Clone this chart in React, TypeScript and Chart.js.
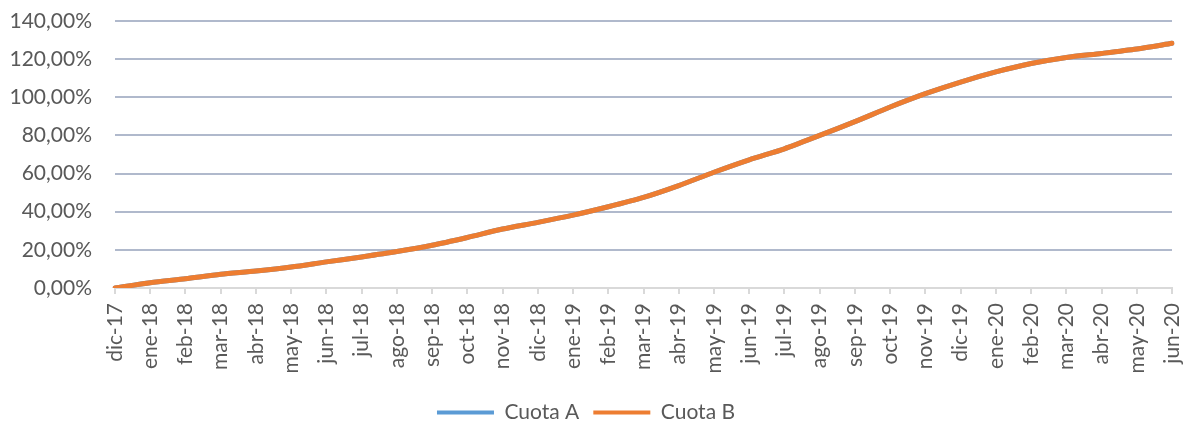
import React, { useEffect, useRef } from 'react';
import { Chart, registerables } from 'chart.js';

Chart.register(...registerables);

const months = [
  'dic-17', 'ene-18', 'feb-18', 'mar-18', 'abr-18', 'may-18', 'jun-18', 'jul-18',
  'ago-18', 'sep-18', 'oct-18', 'nov-18', 'dic-18', 'ene-19', 'feb-19', 'mar-19',
  'abr-19', 'may-19', 'jun-19', 'jul-19', 'ago-19', 'sep-19', 'oct-19', 'nov-19',
  'dic-19', 'ene-20', 'feb-20', 'mar-20', 'abr-20', 'may-20', 'jun-20',
];

const cuotaA = [
  0, 2.8, 4.9, 7.2, 8.9, 11.0, 13.7, 16.3, 19.1, 22.4, 26.5, 30.9, 34.4, 38.2, 42.6, 47.5,
  53.7, 60.7, 67.2, 73.0, 80.0, 87.2, 94.9, 101.9, 108.0, 113.3, 117.7, 120.9, 123.0, 125.3, 128.3,
];

const cuotaB = [
  0, 2.8, 4.9, 7.2, 8.9, 11.0, 13.7, 16.3, 19.1, 22.4, 26.5, 30.9, 34.4, 38.2, 42.6, 47.5,
  53.7, 60.7, 67.2, 73.0, 80.0, 87.2, 94.9, 101.9, 108.0, 113.3, 117.7, 120.9, 123.0, 125.3, 128.3,
];

const seriesNames = ['Cuota A', 'Cuota B'];
const yMin = 0;
const yMax = 140;
const yStep = 20;

const FONT = 'Lato, "Open Sans", sans-serif';
const TEXT = '#595959';

export default function App() {
  const ref = useRef<HTMLCanvasElement>(null);

  useEffect(() => {
    if (!ref.current) return;
    const chart = new Chart(ref.current, {
      type: 'line',
      data: {
        labels: months,
        datasets: [
          {
            label: seriesNames[0],
            data: cuotaA,
            borderColor: '#5B9BD5',
            backgroundColor: '#5B9BD5',
            borderWidth: 5,
            pointRadius: 0,
            tension: 0.25,
            borderCapStyle: 'round',
            order: 1,
          },
          {
            label: seriesNames[1],
            data: cuotaB,
            borderColor: '#ED7D31',
            backgroundColor: '#ED7D31',
            borderWidth: 5,
            pointRadius: 0,
            tension: 0.25,
            borderCapStyle: 'round',
            order: 0,
          },
        ],
      },
      options: {
        animation: false,
        responsive: false,
        maintainAspectRatio: false,
        layout: { padding: { left: 0, right: 18, top: 21, bottom: -8 } },
        plugins: {
          tooltip: { enabled: false },
          legend: {
            position: 'bottom',
            labels: {
              sort: (a: any, b: any) => a.datasetIndex - b.datasetIndex,
              boxWidth: 57,
              boxHeight: 4,
              padding: 14,
              color: TEXT,
              font: { family: FONT, size: 21 },
              generateLabels: (c: any) => {
                const items = Chart.defaults.plugins.legend.labels.generateLabels(c);
                return items.map((it: any) => ({ ...it, lineWidth: 0 }));
              },
            },
          },
        },
        scales: {
          x: {
            offset: false,
            grid: {
              drawOnChartArea: false,
              drawTicks: true,
              tickLength: 6,
              color: '#d9d9d9',
              lineWidth: 2,
            },
            border: { color: '#d9d9d9', width: 2 },
            ticks: {
              autoSkip: false,
              maxRotation: 90,
              minRotation: 90,
              color: TEXT,
              padding: 9,
              font: { family: FONT, size: 21 },
            },
            afterFit: (s: any) => {
              s.height = 100;
              s.paddingLeft = 0;
              s.paddingRight = 0;
            },
          },
          y: {
            min: yMin,
            max: yMax,
            border: { display: false },
            grid: {
              drawTicks: false,
              lineWidth: 2,
              color: (ctx: any) => (ctx.tick && ctx.tick.value === 0 ? 'rgba(0,0,0,0)' : '#b0b9cc'),
            },
            ticks: {
              stepSize: yStep,
              padding: 23,
              color: TEXT,
              font: { family: FONT, size: 21 },
              callback: (v: any) => Number(v).toFixed(2).replace('.', ',') + '%',
            },
            afterFit: (s: any) => {
              s.width = 115;
              s.paddingTop = 0;
              s.paddingBottom = 0;
            },
          },
        },
      },
    });
    return () => chart.destroy();
  }, []);

  return (
    <div style={{ position: 'absolute', left: 0, top: 0, width: 1190, height: 425, background: '#fff' }}>
      <canvas ref={ref} width={1190} height={425} style={{ width: 1190, height: 425 }} />
    </div>
  );
}
